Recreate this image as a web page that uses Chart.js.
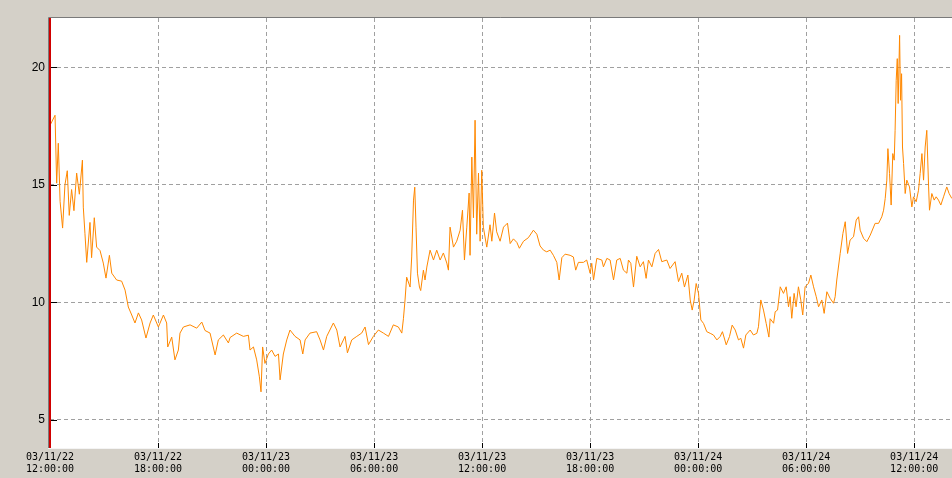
<!DOCTYPE html>
<html>
<head>
<meta charset="utf-8">
<script src="https://cdn.jsdelivr.net/npm/chart.js@4/dist/chart.umd.min.js"></script>
<style>
  html, body { margin: 0; padding: 0; background: #d4d0c8; }
  canvas { display: block; }
</style>
</head>
<body>
<canvas id="trend_chart" width="952" height="478"></canvas>
<script>
// hours since 03/11/22 12:00:00
const hours = [
  0.00, 0.28, 0.37, 0.46, 0.56, 0.70, 0.83, 0.96, 1.07, 1.20, 1.33, 1.48, 1.63, 1.80, 1.85, 1.94,
  2.04, 2.22, 2.31, 2.46, 2.59, 2.78, 2.96, 3.11, 3.30, 3.43, 3.70, 3.98, 4.17, 4.35, 4.54, 4.72,
  4.91, 5.09, 5.33, 5.56, 5.74, 6.02, 6.30, 6.48, 6.54, 6.76, 6.94, 7.13, 7.22, 7.41, 7.78, 8.15,
  8.43, 8.61, 8.89, 9.17, 9.35, 9.63, 9.91,
  10.00, 10.37, 10.74, 11.02, 11.11, 11.30, 11.48, 11.63, 11.72, 11.81, 11.94, 12.13, 12.31, 12.50,
  12.69, 12.78, 12.96, 13.15, 13.33, 13.61, 13.89, 14.04, 14.17, 14.44, 14.81, 15.00, 15.19, 15.37,
  15.74, 15.93, 16.11, 16.39, 16.52, 16.76, 17.04, 17.31, 17.50, 17.69, 17.96, 18.24, 18.52, 18.80,
  19.07, 19.35, 19.54, 19.63, 19.72, 19.81, 20.00,
  20.09, 20.19, 20.26, 20.33, 20.41, 20.52, 20.59, 20.74, 20.83, 20.93, 21.11, 21.30, 21.48, 21.67,
  21.85, 22.04, 22.13, 22.22, 22.41, 22.59, 22.78, 22.91, 23.02, 23.15, 23.28, 23.33, 23.43, 23.52,
  23.61, 23.70, 23.80, 23.89, 23.98, 24.07, 24.26, 24.44, 24.54, 24.69, 24.81, 25.00, 25.19, 25.41,
  25.56, 25.74, 25.93, 26.07, 26.30, 26.57, 26.85, 27.04, 27.22, 27.41, 27.59, 27.78, 27.96, 28.15,
  28.28, 28.43, 28.61, 28.89, 29.07, 29.20, 29.35, 29.63, 29.81, 30.00,
  30.09, 30.19, 30.37, 30.65, 30.74, 30.93, 31.11, 31.30, 31.48, 31.67, 31.85, 32.04, 32.13, 32.26,
  32.41, 32.59, 32.78, 32.96, 33.11, 33.24, 33.43, 33.61, 33.80, 33.98, 34.26, 34.44, 34.72, 34.91,
  35.09, 35.24, 35.43, 35.56, 35.67, 35.78, 35.89, 36.02, 36.15, 36.30, 36.48, 36.67, 36.85, 37.04,
  37.22, 37.35, 37.56, 37.74, 37.89, 38.06, 38.24, 38.37, 38.52, 38.65, 38.89, 39.07, 39.26, 39.35,
  39.48, 39.63, 39.78, 39.93, 40.00,
  40.19, 40.28, 40.41, 40.56, 40.74, 40.89, 41.02, 41.11, 41.20, 41.33, 41.44, 41.57, 41.70, 41.81,
  41.94, 42.13, 42.26, 42.41, 42.56, 42.69, 42.87, 43.00, 43.15, 43.33, 43.52, 43.61, 43.70, 43.89,
  44.04, 44.17, 44.30, 44.44, 44.63, 44.78, 44.91, 45.00, 45.19, 45.37, 45.56, 45.83, 46.02, 46.20,
  46.30, 46.39, 46.48, 46.54, 46.63, 46.72, 46.81, 46.89, 46.94, 47.00, 47.06, 47.11, 47.19, 47.24,
  47.30, 47.35, 47.41, 47.50, 47.59, 47.74, 47.87, 47.96, 48.11, 48.24, 48.33, 48.43, 48.52, 48.61,
  48.70, 48.80, 48.85, 48.98, 49.11, 49.22, 49.35, 49.48, 49.63, 49.81, 49.94, 50.09
];

const values = [
  17.53, 17.96, 15.07, 16.77, 14.30, 13.16, 15.00, 15.60, 13.70, 14.80, 13.90, 15.50, 14.60, 16.05, 14.05, 12.94,
  11.70, 13.40, 11.90, 13.60, 12.35, 12.20, 11.67, 11.03, 12.00, 11.24, 10.95, 10.90, 10.52, 9.80, 9.46, 9.12,
  9.55, 9.25, 8.48, 9.12, 9.46, 8.95, 9.46, 9.12, 8.10, 8.52, 7.55, 7.97, 8.69, 8.95, 9.04, 8.90,
  9.16, 8.80, 8.69, 7.76, 8.40, 8.61, 8.27,
  8.50, 8.69, 8.55, 8.60, 7.97, 8.10, 7.55, 6.83, 6.19, 8.10, 7.40, 7.80, 7.97, 7.70,
  7.80, 6.70, 7.80, 8.40, 8.82, 8.55, 8.40, 7.80, 8.40, 8.69, 8.75, 8.40, 7.97, 8.55,
  9.12, 8.82, 8.10, 8.55, 7.85, 8.40, 8.55, 8.69, 8.95, 8.20, 8.55, 8.82, 8.69, 8.55,
  9.04, 8.95, 8.69, 9.30, 10.10, 11.07, 10.65,
  11.93, 14.35, 14.90, 13.20, 11.24, 10.65, 10.50, 11.37, 10.95, 11.50, 12.22, 11.80, 12.22, 11.80,
  12.10, 11.67, 11.37, 13.20, 12.35, 12.60, 13.07, 13.92, 11.80, 13.20, 14.65, 12.00, 16.18, 13.60,
  17.75, 12.90, 15.50, 12.60, 15.62, 13.20, 12.35, 13.30, 12.60, 13.80, 13.00, 12.60, 13.20, 13.37,
  12.50, 12.70, 12.55, 12.30, 12.60, 12.75, 13.07, 12.90, 12.40, 12.22, 12.15, 12.22, 12.00, 11.70,
  10.95, 11.90, 12.05, 12.00, 11.93, 11.37, 11.70, 11.70, 11.80, 11.24,
  11.66, 10.95, 11.87, 11.80, 11.51, 11.87, 11.80, 10.95, 11.80, 11.87, 11.37, 11.24, 11.80, 11.66,
  10.65, 11.96, 11.51, 11.73, 11.02, 11.80, 11.51, 12.08, 12.25, 11.73, 11.80, 11.44, 11.73, 10.88,
  11.24, 10.65, 11.16, 10.10, 9.67, 10.10, 10.80, 10.38, 9.25, 9.10, 8.75, 8.68, 8.61, 8.40,
  8.54, 8.75, 8.19, 8.54, 9.03, 8.82, 8.40, 8.47, 8.05, 8.61, 8.82, 8.61, 8.68, 8.96,
  10.10, 9.67, 9.10, 8.52, 9.30,
  9.11, 9.60, 9.67, 10.66, 10.38, 10.66, 9.81, 10.24, 9.32, 10.38, 9.81, 10.66, 10.10, 9.46,
  10.66, 10.81, 11.16, 10.66, 10.24, 9.81, 10.10, 9.53, 10.45, 10.17, 9.96, 10.24, 10.95, 12.08,
  12.93, 13.43, 12.08, 12.65, 12.79, 13.50, 13.64, 13.07, 12.72, 12.58, 12.86, 13.36, 13.36, 13.64,
  13.92, 14.42, 15.20, 16.54, 15.48, 14.14, 16.33, 16.05, 17.32, 19.45, 20.37, 18.46, 21.36, 18.60,
  19.73, 16.61, 15.91, 14.63, 15.20, 14.91, 14.06, 14.49, 14.28, 14.77, 15.48, 16.33, 15.20, 16.61,
  17.32, 14.91, 13.92, 14.63, 14.35, 14.49, 14.35, 14.14, 14.49, 14.91, 14.63, 14.42
];

const tickDates = ["03/11/22", "03/11/22", "03/11/23", "03/11/23", "03/11/23", "03/11/23", "03/11/24", "03/11/24", "03/11/24"];
const tickTimes = ["12:00:00", "18:00:00", "00:00:00", "06:00:00", "12:00:00", "18:00:00", "00:00:00", "06:00:00", "12:00:00"];
const yTicks = [5, 10, 15, 20];

// Panel background, inner tick marks and the sunken frame
const framePlugin = {
  id: "frame",
  beforeDraw(chart) {
    const { ctx, chartArea: a } = chart;
    ctx.save();
    ctx.fillStyle = "#d4d0c8";
    ctx.fillRect(0, 0, chart.width, chart.height);
    ctx.fillStyle = "#ffffff";
    ctx.fillRect(a.left, a.top, a.right - a.left, a.bottom - a.top);
    ctx.restore();
  },
  afterDraw(chart) {
    const { ctx, chartArea: a, scales } = chart;
    ctx.save();
    ctx.lineWidth = 1;
    ctx.strokeStyle = "#000000";
    ctx.beginPath();
    yTicks.forEach(v => {
      const y = Math.round(scales.y.getPixelForValue(v)) + 0.5;
      ctx.moveTo(a.left, y);
      ctx.lineTo(a.left + 7, y);
    });
    for (let i = 0; i < tickDates.length; i++) {
      const x = Math.round(scales.x.getPixelForValue(i * 6)) + 0.5;
      ctx.moveTo(x, a.bottom);
      ctx.lineTo(x, a.bottom - 5);
    }
    ctx.stroke();

    // frame
    ctx.strokeStyle = "#7a7a7a";
    ctx.beginPath();
    ctx.moveTo(a.left - 1.5, a.bottom);
    ctx.lineTo(a.left - 1.5, a.top - 0.5);
    ctx.lineTo(a.right, a.top - 0.5);
    ctx.stroke();
    ctx.strokeStyle = "#f4f4f4";
    ctx.beginPath();
    ctx.moveTo(a.left - 2, a.bottom + 0.5);
    ctx.lineTo(a.right, a.bottom + 0.5);
    ctx.stroke();

    ctx.strokeStyle = "#d00000";
    ctx.lineWidth = 2;
    ctx.beginPath();
    ctx.moveTo(a.left, a.top);
    ctx.lineTo(a.left, a.bottom);
    ctx.stroke();
    ctx.restore();
  }
};

const context = document.getElementById("trend_chart").getContext("2d");

new Chart(context, {
  type: "line",
  data: {
    datasets: [{
      data: hours.map((h, i) => ({ x: h, y: values[i] })),
      borderColor: "#ff8800",
      borderWidth: 1,
      pointRadius: 0,
      tension: 0,
      fill: false
    }]
  },
  options: {
    responsive: false,
    animation: false,
    layout: { padding: { top: 18, right: 0, bottom: 0, left: 0 } },
    plugins: { legend: { display: false }, tooltip: { enabled: false } },
    scales: {
      x: {
        type: "linear",
        min: 0,
        max: 50.1,
        afterFit: scale => { scale.height = 30; },
        border: { display: false, dash: [4, 3] },
        grid: { color: "#a0a0a0", lineWidth: 1, drawTicks: false },
        ticks: {
          stepSize: 6,
          includeBounds: false,
          autoSkip: false,
          maxRotation: 0,
          padding: 3,
          color: "#000000",
          font: { family: "DejaVu Sans Mono", size: 10, lineHeight: 1.2 },
          callback: value => {
            const i = Math.round(value / 6);
            return [tickDates[i], tickTimes[i]];
          }
        }
      },
      y: {
        min: 3.8,
        max: 22.1,
        afterFit: scale => { scale.width = 50; },
        afterBuildTicks: scale => { scale.ticks = yTicks.map(v => ({ value: v })); },
        border: { display: false, dash: [4, 3] },
        grid: { color: "#a0a0a0", lineWidth: 1, drawTicks: false },
        ticks: {
          padding: 5,
          color: "#000000",
          font: { family: "Liberation Sans", size: 12 }
        }
      }
    }
  },
  plugins: [framePlugin]
});
</script>
</body>
</html>
